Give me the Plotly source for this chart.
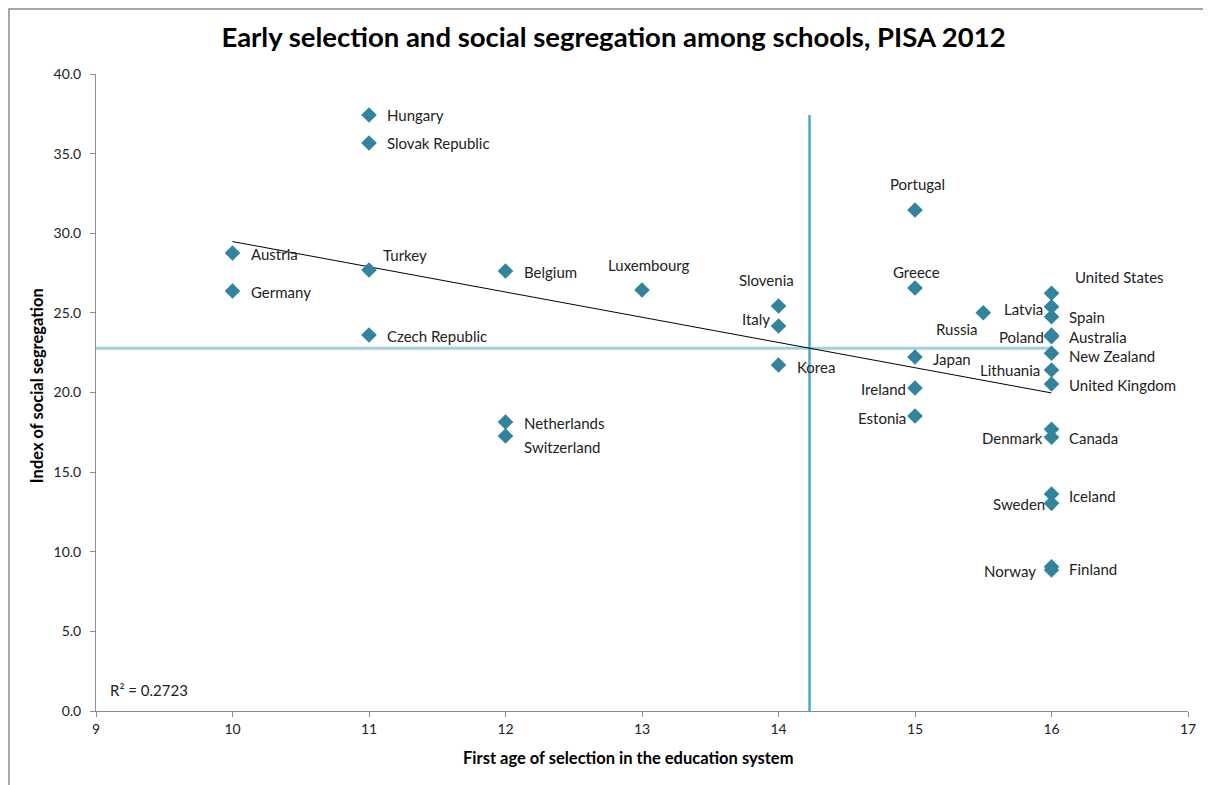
import numpy as np
import plotly.graph_objects as go

countries = ["Hungary", "Slovak Republic", "Austria", "Germany", "Turkey", "Czech Republic",
             "Belgium", "Netherlands", "Switzerland", "Luxembourg", "Slovenia", "Italy", "Korea",
             "Portugal", "Greece", "Japan", "Ireland", "Estonia", "Russia",
             "United States", "Latvia", "Spain", "Poland", "Australia", "New Zealand",
             "Lithuania", "United Kingdom", "Denmark", "Canada", "Iceland", "Sweden",
             "Norway", "Finland"]
first_age = [11, 11, 10, 10, 11, 11,
             12, 12, 12, 13, 14, 14, 14,
             15, 15, 15, 15, 15, 15.5,
             16, 16, 16, 16, 16, 16,
             16, 16, 16, 16, 16, 16,
             16, 16]
segregation = [37.43, 35.67, 28.76, 26.37, 27.69, 23.61,
               27.63, 18.15, 17.27, 26.44, 25.43, 24.18, 21.73,
               31.46, 26.56, 22.23, 20.28, 18.52, 25.01,
               26.23, 25.39, 24.76, 23.60, 23.50, 22.46,
               21.41, 20.53, 17.19, 17.69, 13.63, 13.04,
               8.85, 9.06]
r2_text = "R² = 0.2723"

# label placement: (xanchor, xshift px, yshift px)
label_pos = {
    "Hungary": ("left", 16, 0), "Slovak Republic": ("left", 16, 0),
    "Austria": ("left", 16, -1), "Germany": ("left", 16, -1),
    "Turkey": ("left", 12, 15), "Czech Republic": ("left", 16, -1),
    "Belgium": ("left", 16, -1), "Netherlands": ("left", 16, -1),
    "Switzerland": ("left", 16, -11), "Luxembourg": ("center", 7, 25),
    "Slovenia": ("center", -12, 26), "Italy": ("right", -7, 7),
    "Korea": ("left", 16, -2), "Portugal": ("center", 2, 26),
    "Greece": ("center", 1, 16), "Japan": ("left", 16, -2),
    "Ireland": ("right", -7, -1), "Estonia": ("right", -7, -2),
    "Russia": ("right", -3, -16), "United States": ("left", 21, 16),
    "Latvia": ("right", -7, -2), "Spain": ("left", 15, 0),
    "Poland": ("right", -6, -2), "Australia": ("left", 15, 0),
    "New Zealand": ("left", 15, -3), "Lithuania": ("right", -10, 0),
    "United Kingdom": ("left", 15, -1), "Denmark": ("right", -7, -1),
    "Canada": ("left", 15, -9), "Iceland": ("left", 15, -2),
    "Sweden": ("right", -5, -1), "Norway": ("right", -14, -1),
    "Finland": ("left", 15, -2),
}

x = np.array(first_age, dtype=float)
y = np.array(segregation, dtype=float)
slope, intercept = np.polyfit(x, y, 1)
x_mean, y_mean = x.mean(), y.mean()

FONT = "Lato, 'Open Sans', sans-serif"
teal = "#31849B"

fig = go.Figure()
# mean lines
fig.add_trace(go.Scatter(x=[9, x.max()], y=[y_mean, y_mean], mode="lines",
                         line=dict(color="#A4CFDC", width=3), hoverinfo="skip", showlegend=False))
fig.add_trace(go.Scatter(x=[x_mean, x_mean], y=[0, y.max()], mode="lines",
                         line=dict(color="#4BACC6", width=2.5), hoverinfo="skip", showlegend=False))
# trend line
xt = np.array([x.min(), x.max()])
fig.add_trace(go.Scatter(x=xt, y=slope * xt + intercept, mode="lines",
                         line=dict(color="black", width=1), hoverinfo="skip", showlegend=False))
# points
fig.add_trace(go.Scatter(x=first_age, y=segregation, mode="markers", text=countries,
                         marker=dict(symbol="diamond", size=12, color=teal),
                         showlegend=False))

for c, xv, yv in zip(countries, first_age, segregation):
    anc, dx, dy = label_pos[c]
    fig.add_annotation(x=xv, y=yv, text=c, showarrow=False, xanchor=anc, yanchor="middle",
                       xshift=dx, yshift=dy, font=dict(family=FONT, size=15, color="#222222"))

fig.add_annotation(x=9.088, y=1.32, text=r2_text, showarrow=False, xanchor="left",
                   yanchor="middle", font=dict(family=FONT, size=15, color="#222222"))

# axis titles
fig.add_annotation(xref="paper", yref="paper", x=0.487, y=-0.0745, showarrow=False,
                   xanchor="center", yanchor="middle",
                   text="<b>First age of selection in the education system</b>",
                   font=dict(family=FONT, size=16.5, color="black"))
fig.add_annotation(xref="paper", yref="paper", x=-0.054, y=0.51, showarrow=False,
                   xanchor="center", yanchor="middle", textangle=-90,
                   text="<b>Index of social segregation</b>",
                   font=dict(family=FONT, size=16.5, color="black"))

fig.update_layout(
    width=1211, height=785,
    margin=dict(l=88, r=31, t=66, b=82),
    paper_bgcolor="white", plot_bgcolor="white",
    title=dict(text="<b>Early selection and social segregation among schools, PISA 2012</b>",
               x=0.5, xanchor="center", y=0.962, yanchor="middle",
               font=dict(family=FONT, size=27.5, color="black")),
    font=dict(family=FONT, size=14, color="#222222"),
    xaxis=dict(range=[9, 17], dtick=1, showgrid=False, zeroline=False,
               showline=True, linecolor="#8c8c8c", linewidth=1,
               ticks="outside", ticklen=5, tickcolor="#8c8c8c",
               tickfont=dict(family=FONT, size=14, color="#222222")),
    yaxis=dict(range=[0, 40], dtick=5, tickformat=".1f", showgrid=False, zeroline=False,
               showline=True, linecolor="#8c8c8c", linewidth=1,
               ticks="outside", ticklen=5, tickcolor="#8c8c8c", ticklabelstandoff=6,
               tickfont=dict(family=FONT, size=14, color="#222222")),
    shapes=[dict(type="rect", xref="paper", yref="paper", x0=-0.0797, x1=1.05, y0=-0.2, y1=1.102,
                 line=dict(color="#8c8c8c", width=1.5), fillcolor="rgba(0,0,0,0)", layer="below")],
)

fig.write_html("out.html")
